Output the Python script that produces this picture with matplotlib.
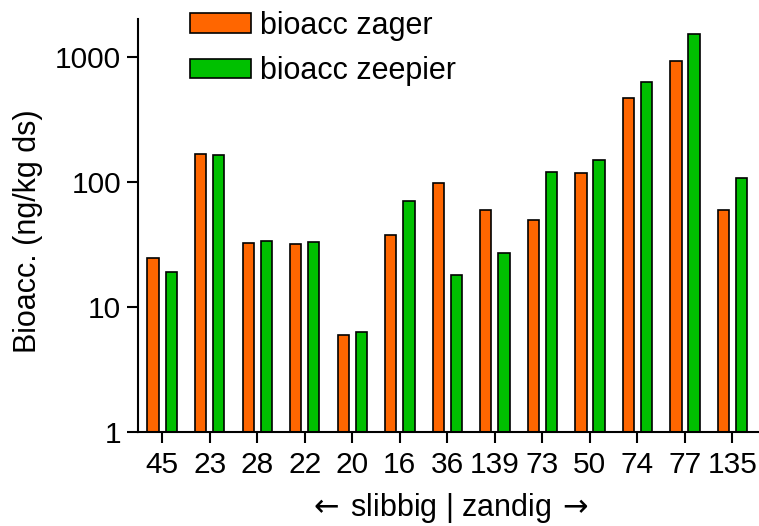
import matplotlib
matplotlib.use("Agg")
import matplotlib.pyplot as plt
import numpy as np

categories = ["45", "23", "28", "22", "20", "16", "36", "139", "73", "50", "74", "77", "135"]
zager = [24.8, 167, 32.5, 31.7, 6.0, 37.9, 98.8, 59.7, 49.7, 119, 470, 923, 59.3]
zeepier = [18.9, 164, 33.7, 33.1, 6.35, 70, 18.0, 27.2, 120, 149, 631, 1535, 107]
series_labels = ["bioacc zager", "bioacc zeepier"]
colors = ["#FF6600", "#00C000"]

plt.rcParams['font.family'] = ['Liberation Sans', 'DejaVu Sans']
plt.rcParams['mathtext.fontset'] = 'dejavusans'
FS = 22
TFS = 21.5

fig = plt.figure(figsize=(7.59, 5.26), dpi=100)
ax = fig.add_axes([0.1818, 0.1787, 0.8182, 0.785])

x = np.arange(len(categories))
w = 0.24
off = 0.19
ax.bar(x - off, zager, w, color=colors[0], edgecolor="black", linewidth=1.2, label=series_labels[0])
ax.bar(x + off, zeepier, w, color=colors[1], edgecolor="black", linewidth=1.2, label=series_labels[1])

ax.set_yscale("log")
ax.set_ylim(1, 2014)
ax.set_xlim(-0.51, 12.56)
ax.set_yticks([1, 10, 100, 1000])
ax.set_yticklabels(["1", "10", "100", "1000"])
ax.yaxis.set_minor_locator(matplotlib.ticker.NullLocator())
ax.set_xticks(x)
ax.set_xticklabels(categories)

for s in ["top", "right"]:
    ax.spines[s].set_visible(False)
for s in ["left", "bottom"]:
    ax.spines[s].set_linewidth(1.5)
ax.tick_params(axis="both", which="major", labelsize=TFS, length=8, width=1.5, direction="out")
ax.tick_params(axis="y", pad=4)
ax.tick_params(axis="x", pad=6)

ax.set_ylabel("Bioacc. (ng/kg ds)", fontsize=FS)
ax.yaxis.set_label_coords(-0.153, 0.487)
ax.set_xlabel(r"$\leftarrow\,$slibbig | zandig$\,\rightarrow$", fontsize=FS, labelpad=8)

ax.legend(loc="upper left", bbox_to_anchor=(190/759, 1 - 11/526), bbox_transform=fig.transFigure,
          frameon=False, fontsize=FS, handlelength=2.0, handleheight=0.62,
          handletextpad=0.3, labelspacing=0.5, borderpad=0, borderaxespad=0)

fig.savefig("out.png", dpi=100)
